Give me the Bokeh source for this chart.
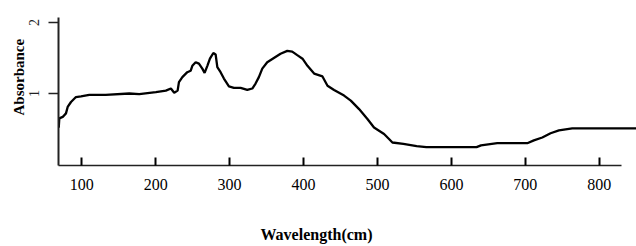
from bokeh.plotting import figure
from bokeh.models import FixedTicker, Range1d, Title, LinearAxis
from bokeh.embed import file_html
from bokeh.resources import INLINE

wavelength = [68.9, 69.7, 74.3, 78.7, 81.0, 85.5, 92.2, 99.0, 110.2, 132.4, 164.3, 177.8,
              200.3, 213.8, 220.6, 225.1, 229.7, 231.5, 236.1, 242.8, 247.3, 249.6, 254.1,
              258.5, 263.1, 266.2, 269.9, 273.4, 278.0, 281.1, 283.4, 287.8, 292.3, 299.1,
              305.8, 314.9, 323.9, 330.7, 335.1, 339.6, 344.2, 350.9, 359.9, 368.9, 378.0,
              384.7, 391.5, 398.6, 405.3, 414.3, 425.6, 432.4, 441.3, 454.8, 463.9, 475.1,
              486.4, 495.3, 508.9, 515.6, 520.2, 535.0, 553.0, 566.0, 597.0, 634.0, 640.0,
              662.0, 702.6, 711.5, 722.9, 734.1, 745.4, 763.4, 850.0]
absorbance = [0.52, 0.65, 0.67, 0.72, 0.81, 0.88, 0.95, 0.96, 0.98, 0.98, 1.00, 0.99,
              1.02, 1.04, 1.07, 1.01, 1.04, 1.16, 1.23, 1.30, 1.32, 1.39, 1.44,
              1.42, 1.35, 1.29, 1.39, 1.49, 1.57, 1.55, 1.37, 1.30, 1.21, 1.10,
              1.08, 1.08, 1.05, 1.07, 1.14, 1.23, 1.35, 1.44, 1.50, 1.56, 1.60,
              1.59, 1.54, 1.49, 1.39, 1.28, 1.24, 1.11, 1.05, 0.97, 0.90, 0.78,
              0.64, 0.52, 0.43, 0.36, 0.31, 0.29, 0.26, 0.245, 0.245, 0.245, 0.27,
              0.30, 0.30, 0.34, 0.38, 0.44, 0.48, 0.51, 0.51]

x_ticks = [100, 200, 300, 400, 500, 600, 700, 800]
y_ticks = [1, 2]
x_title = "Wavelength(cm)"
y_title = "Absorbance"

FONT = "Liberation Serif"

p = figure(width=636, height=246, output_backend="svg", toolbar_location=None,
           x_range=Range1d(68.6, 850.3), y_range=Range1d(-0.014, 2.07),
           min_border_left=58, min_border_right=0, min_border_top=17, min_border_bottom=81)
p.outline_line_color = None
p.xgrid.visible = False
p.ygrid.visible = False
p.background_fill_color = "white"
p.border_fill_color = "white"

p.line(wavelength, absorbance, line_color="black", line_width=2.3)

xa = p.xaxis[0]
xa.ticker = FixedTicker(ticks=x_ticks)
xa.bounds = (68.6, 830)
xa.axis_line_color = "#222222"
xa.axis_line_width = 1.5
xa.major_tick_in = 8
xa.major_tick_out = 0
xa.major_tick_line_width = 2
xa.major_tick_line_color = "black"
xa.minor_tick_line_color = None
xa.major_label_text_font = FONT
xa.major_label_text_font_size = "16px"
xa.major_label_text_color = "black"
xa.major_label_standoff = 13

ya = p.yaxis[0]
ya.ticker = FixedTicker(ticks=y_ticks)
ya.axis_line_color = "#222222"
ya.axis_line_width = 2
ya.major_tick_in = 0
ya.major_tick_out = 10
ya.major_tick_line_width = 1.5
ya.major_tick_line_color = "#222222"
ya.minor_tick_line_color = None
ya.major_label_orientation = "vertical"
ya.major_label_text_font = FONT
ya.major_label_text_font_size = "14px"
ya.major_label_text_color = "#222222"
ya.major_label_standoff = 9

# blank spacer axis (white tick on white, no labels, no line) pushes the x title down
spacer = LinearAxis(ticker=FixedTicker(ticks=[450], minor_ticks=[]),
                    axis_line_color=None, major_tick_line_color="white",
                    major_tick_line_width=1, minor_tick_line_color=None,
                    major_tick_in=0, major_tick_out=31, minor_tick_out=0,
                    major_label_text_color=None, major_label_standoff=0)
p.add_layout(spacer, "below")

p.add_layout(Title(text=y_title, align="left", offset=50, standoff=0,
                   text_font=FONT, text_font_style="bold", text_font_size="15px",
                   text_color="black"), "left")
p.add_layout(Title(text=x_title, align="left", offset=202, standoff=0,
                   text_font=FONT, text_font_style="bold", text_font_size="16px",
                   text_color="black"), "below")

open("out.html", "w").write(file_html(p, INLINE))
